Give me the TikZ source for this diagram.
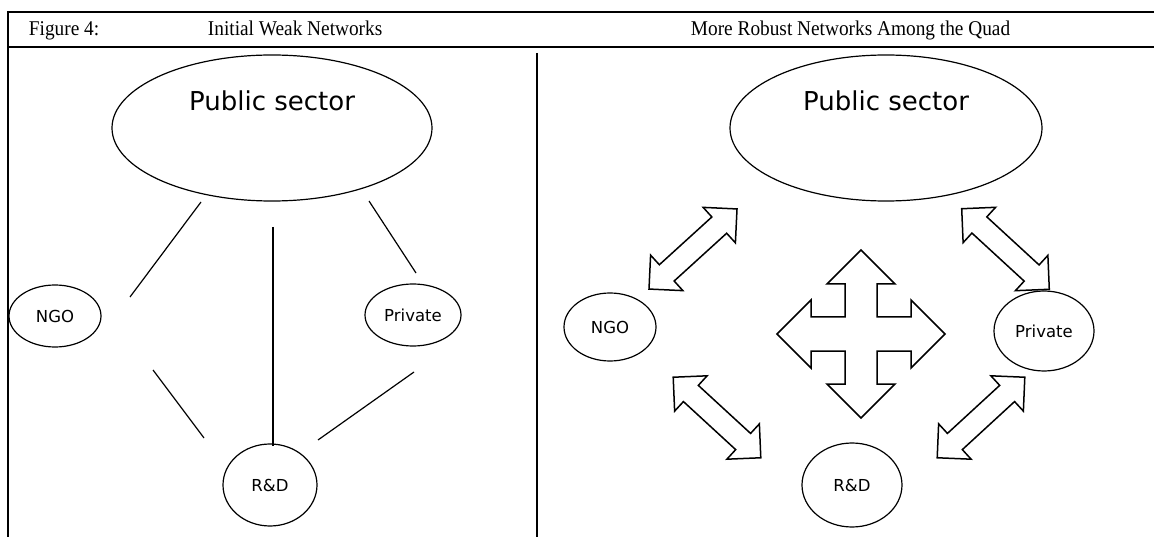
\documentclass[tikz,border=0pt]{standalone}
\usepackage{fontspec}
\setmainfont{Liberation Serif}
\newfontfamily\headfont[FakeStretch=0.92]{Liberation Serif}
\newfontfamily\labelfont{DejaVu Sans}
\usetikzlibrary{shapes.geometric}

\begin{document}
\begin{tikzpicture}[x=1pt, y=-1pt, line width=1.2pt,
	main/.style = {draw, ellipse, inner sep=0pt, font=\labelfont\fontsize{16.5}{18}\selectfont},
	big/.style = {main, label={[anchor=center, yshift=-46pt, font=\labelfont\fontsize{26}{30}\selectfont]north:Public sector}},
	frame/.style = {line width=2pt},
	head/.style = {anchor=base west, font=\headfont\fontsize{21}{24}\selectfont},
	dbl/.pic = {\draw[line width=1.5pt, line join=miter] (-59.5,0) -- (-35.5,24) -- (-35.5,11) -- (35.5,11) -- (35.5,24) -- (59.5,0)
		-- (35.5,-24) -- (35.5,-11) -- (-35.5,-11) -- (-35.5,-24) -- cycle;},
	cross/.pic = {\draw[line width=1.5pt, line join=miter] (0,-84) -- (34,-50) -- (16,-50) -- (16,-17) -- (50,-17) -- (50,-34) -- (84,0)
		-- (50,34) -- (50,17) -- (16,17) -- (16,50) -- (34,50) -- (0,84) -- (-34,50) -- (-16,50) -- (-16,17)
		-- (-50,17) -- (-50,34) -- (-84,0) -- (-50,-34) -- (-50,-17) -- (-16,-17) -- (-16,-50) -- (-34,-50) -- cycle;}]
	\useasboundingbox (0,0) rectangle (1154,537);
	% frame
	\draw[frame] (8,12) -- (1154,12) (8,47) -- (1154,47) (8,11) -- (8,537) (537,53) -- (537,537);
	\node[head] (fig) at (25,36) {Figure 4:};
	\node[head] (weak) at (204,36) {Initial Weak Networks};
	\node[head] (quad) at (687,36) {More Robust Networks Among the Quad};
	% initial weak networks
	\node[big, minimum width=320pt, minimum height=146pt] (pubL) at (272,128) {};
	\node[main, minimum width=92pt, minimum height=62pt] (ngoL) at (55,316) {NGO};
	\node[main, minimum width=96pt, minimum height=62pt] (privL) at (413,315) {Private};
	\node[main, minimum width=94pt, minimum height=82pt] (rdL) at (270,485) {R\&D};
	\coordinate (1a) at (201,202); \coordinate (1b) at (130,297);
	\coordinate (2a) at (273,227); \coordinate (2b) at (273,446);
	\coordinate (3a) at (369,201); \coordinate (3b) at (416,273);
	\coordinate (4a) at (153,370); \coordinate (4b) at (204,438);
	\coordinate (5a) at (414,372); \coordinate (5b) at (318,440);
	\path
		(1a) edge (1b) (2a) edge (2b)
		(3a) edge (3b) (4a) edge (4b)
		(5a) edge (5b);
	% more robust networks
	\node[big, minimum width=312pt, minimum height=146pt] (pubR) at (886,128) {};
	\node[main, minimum width=92pt, minimum height=68pt] (ngoR) at (610,327) {NGO};
	\node[main, minimum width=100pt, minimum height=80pt] (privR) at (1044,331) {Private};
	\node[main, minimum width=100pt, minimum height=84pt] (rdR) at (852,485) {R\&D};
	\pic[rotate=42.3] at (693,249) {dbl};
	\pic[rotate=-42.6] at (1005.5,249) {dbl};
	\pic[rotate=-42.6] at (717,417.5) {dbl};
	\pic[rotate=42.6] at (981,417.5) {dbl};
	\pic at (861,334) {cross};
\end{tikzpicture}
\end{document}
